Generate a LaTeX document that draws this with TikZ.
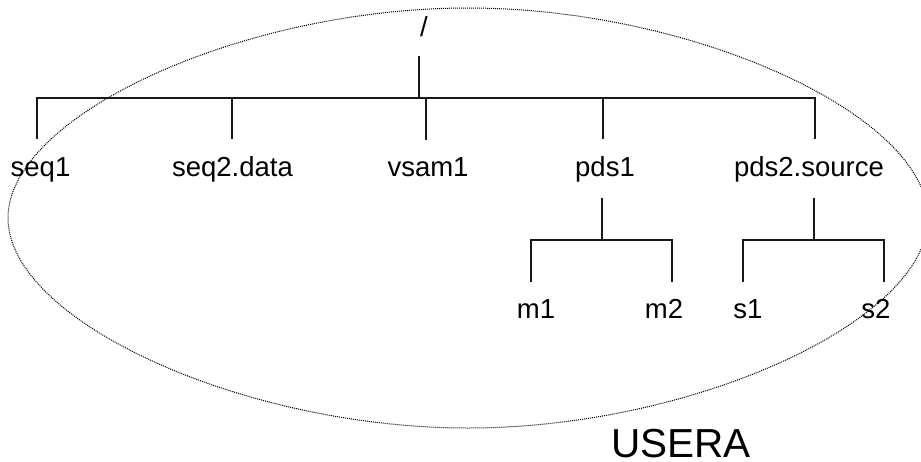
\documentclass[tikz,border=0pt]{standalone}
\usepackage{fontspec}
\setmainfont{Liberation Sans}
\begin{document}
\begin{tikzpicture}[x=1pt,y=-1pt,
  lbl/.style={inner sep=0pt,anchor=base,font=\fontsize{27.5}{33}\selectfont},
  big/.style={inner sep=0pt,anchor=base,font=\fontsize{40.5}{48}\selectfont},
  branch/.style={draw=black!90,line width=1.6pt},
  boundary/.style={draw=black,line width=1pt,dash pattern=on 1pt off 1pt}]
\useasboundingbox (0,0) rectangle (921,461);
\begin{scope}
\clip (0,0) rectangle (921,461);
% dataset boundary of the file system
\draw[boundary] (928,218) .. controls (928,115) and (693,8) .. (468,8)
  .. controls (243,8) and (8,115) .. (8,218)
  .. controls (8,321) and (243,428) .. (468,428)
  .. controls (693,428) and (928,321) .. (928,218);
\end{scope}

% labels
\node[lbl] (root) at (424,36.5) {/};
\node[lbl] (seq1) at (40.5,176) {seq1};
\node[lbl] (seq2) at (232.5,176) {seq2.data};
\node[lbl] (vsam) at (428,176) {vsam1};
\node[lbl] (pds1) at (605,176) {pds1};
\node[lbl] (pds2) at (809,176) {pds2.source};
\node[lbl] (m1) at (536,318) {m1};
\node[lbl] (m2) at (664,318) {m2};
\node[lbl] (s1) at (748,318) {s1};
\node[lbl] (s2) at (876,318) {s2};
\node[big] (usera) at (681,457.5) {USERA};

% branch points
\coordinate (rootdrop) at (419,56);
\coordinate (bus) at (419,98);
\coordinate (seq1top) at (37,139);
\coordinate (seq2top) at (232,139);
\coordinate (vsamtop) at (426,140);
\coordinate (pds1top) at (603,139);
\coordinate (pds2top) at (815,139);
\coordinate (pds1drop) at (602,198);
\coordinate (pds1bus) at (602,240);
\coordinate (m1top) at (531,282);
\coordinate (m2top) at (672,282);
\coordinate (pds2drop) at (814,198);
\coordinate (pds2bus) at (814,240);
\coordinate (s1top) at (743,282);
\coordinate (s2top) at (884,282);

% top level
\draw[branch] (rootdrop) -- (bus);
\draw[branch] (seq1top) |- (bus) -| (pds2top);
\draw[branch] (seq2top) -- (seq2top |- bus);
\draw[branch] (vsamtop) -- (vsamtop |- bus);
\draw[branch] (pds1top) -- (pds1top |- bus);

% members of pds1
\draw[branch] (pds1drop) -- (pds1bus);
\draw[branch] (m1top) |- (pds1bus) -| (m2top);

% members of pds2.source
\draw[branch] (pds2drop) -- (pds2bus);
\draw[branch] (s1top) |- (pds2bus) -| (s2top);
\end{tikzpicture}
\end{document}
